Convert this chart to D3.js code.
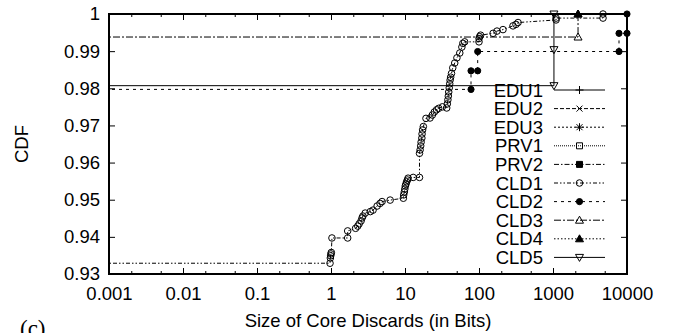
<!DOCTYPE html>
<html>
<head>
<meta charset="utf-8">
<script src="https://cdn.jsdelivr.net/npm/d3@7"></script>
<style>
  body { margin: 0; background: #fff; }
  text { font-family: "Liberation Sans", Arial, Helvetica, sans-serif; fill: #000; }
</style>
</head>
<body>
<div id="chart"></div>
<script>
// axis ticks
const xTicks = [0.001, 0.01, 0.1, 1, 10, 100, 1000, 10000];
const xTickLabels = ["0.001", "0.01", "0.1", "1", "10", "100", "1000", "10000"];
const xMinorTicks = [0.002, 0.005, 0.02, 0.05, 0.2, 0.5, 2, 5, 20, 50, 200, 500, 2000, 5000];
const yTicks = [0.93, 0.94, 0.95, 0.96, 0.97, 0.98, 0.99, 1];
const yTickLabels = ["0.93", "0.94", "0.95", "0.96", "0.97", "0.98", "0.99", "1"];

const seriesNames = ["EDU1", "EDU2", "EDU3", "PRV1", "PRV2", "CLD1", "CLD2", "CLD3", "CLD4", "CLD5"];

// [size in bits, CDF]; points left of 0.001 only carry the line in from the left edge
const edu1 = [[0.0001, 1], [20000, 1]];
const edu2 = [[0.0001, 1], [20000, 1]];
const edu3 = [[0.0001, 1], [20000, 1]];
const prv1 = [[0.0001, 1], [20000, 1]];
const prv2 = [[0.0001, 1], [20000, 1]];
const cld1 = [
  [0.0001, 0.9329],
  [0.97, 0.9329], [0.98, 0.9343], [0.99, 0.9349], [1.0, 0.9354], [1.01, 0.9358],
  [1.03, 0.9397], [1.68, 0.9397], [1.68, 0.9416],
  [2.15, 0.9423], [2.3, 0.9429], [2.4, 0.9435], [2.55, 0.9443], [2.63, 0.9451], [2.7, 0.9456], [2.9, 0.9464],
  [3.4, 0.9468], [3.7, 0.9472], [4.2, 0.9483], [4.6, 0.9490], [4.9, 0.9495], [6.3, 0.9499], [9.5, 0.9504],
  [9.6, 0.9513], [9.8, 0.9521], [9.95, 0.9529], [10.1, 0.9537], [10.3, 0.9542], [10.5, 0.9548], [10.8, 0.9553], [11.0, 0.9558],
  [12.9, 0.9560], [15.7, 0.9560],
  [15.7, 0.9625], [16.0, 0.9634], [16.3, 0.9645], [16.5, 0.9655], [16.9, 0.9666], [17.0, 0.9677], [17.3, 0.9688], [17.7, 0.9697],
  [19.2, 0.9719], [21.8, 0.9720], [23.4, 0.9728], [24.9, 0.9736], [26.7, 0.9742], [28.5, 0.9746], [32, 0.9750],
  [36.6, 0.9747], [37.3, 0.9758], [38.0, 0.9769], [38.5, 0.9779], [39.0, 0.9790], [39.6, 0.9801], [40.2, 0.9812],
  [40.7, 0.9822], [41.4, 0.9830], [42.5, 0.9840],
  [44.2, 0.9855], [47, 0.9868], [50.3, 0.9882], [55, 0.9895], [58.7, 0.9911], [60.5, 0.9921], [64, 0.9925],
  [100, 0.9925], [100, 0.9934], [102, 0.9939], [105, 0.9943],
  [155, 0.9948], [175, 0.9954], [211, 0.9958], [288, 0.9968], [316, 0.9972], [337, 0.9977],
  [1100, 0.9984], [1100, 0.9989], [4740, 0.9989], [4740, 1.0], [20000, 1.0]
];
const cld2 = [
  [0.0001, 0.9797], [78, 0.9797], [78, 0.9847], [96, 0.9847], [96, 0.9899],
  [7800, 0.9899], [7800, 0.9948], [10000, 0.9948], [10000, 1.0]
];
const cld3 = [[0.0001, 0.9938], [2180, 0.9938], [2180, 1.0]];
const cld4 = [[0.0001, 1.0], [2180, 1.0]];
const cld5 = [[0.0001, 0.9807], [1030, 0.9807], [1030, 0.9904], [1030, 1.0]];

const seriesData = [edu1, edu2, edu3, prv1, prv2, cld1, cld2, cld3, cld4, cld5];

// line / point style per series
const styles = {
  EDU1: { dash: null, mark: "plus" },
  EDU2: { dash: "4,2", mark: "cross" },
  EDU3: { dash: "2,2", mark: "star" },
  PRV1: { dash: "1,1", mark: "square" },
  PRV2: { dash: "5,2,1.5,2", mark: "squareFilled" },
  CLD1: { dash: "4,2,1.5,2,1.5,2", mark: "circle" },
  CLD2: { dash: "3,4", mark: "circleFilled" },
  CLD3: { dash: "7,2,2,2", mark: "triangle" },
  CLD4: { dash: "1.5,2", mark: "triangleFilled" },
  CLD5: { dash: null, mark: "triangleDown" }
};

let margin = { top: 14, right: 47, bottom: 59, left: 109 },
    width = 674 - margin.left - margin.right,
    height = 333 - margin.top - margin.bottom;

let x = d3.scaleLog().domain([0.001, 10000]).range([0, width]);
let y = d3.scaleLinear().domain([0.93, 1]).range([height, 0]);

let root = d3.select("#chart").append("svg")
    .attr("width", 674)
    .attr("height", 333);
let svg = root.append("g")
    .attr("transform", "translate(" + margin.left + "," + margin.top + ")");

svg.append("clipPath").attr("id", "plotclip")
    .append("rect").attr("width", width).attr("height", height);

function markPath(kind) {
    if (kind == "plus") return "M-4,0H4M0,-4V4";
    if (kind == "cross") return "M-3,-3L3,3M-3,3L3,-3";
    if (kind == "star") return "M-4,0H4M0,-4V4M-3,-3L3,3M-3,3L3,-3";
    if (kind.startsWith("square")) return "M-3,-3H3V3H-3Z";
    if (kind == "circle") return d3.symbol(d3.symbolCircle, 34)();
    if (kind == "circleFilled") return d3.symbol(d3.symbolCircle, 30)();
    if (kind == "triangleDown") return "M-4,-3L4,-3L0,4Z";
    return "M0,-4L4,3L-4,3Z";
}

function drawMark(g, kind, px, py) {
    g.append("path")
        .attr("d", markPath(kind))
        .attr("transform", "translate(" + px + "," + py + ")")
        .attr("fill", kind.endsWith("Filled") ? "#000" : "none")
        .attr("stroke", "#000")
        .attr("stroke-width", 1);
}

// minor x ticks (2 and 5 of every decade), bottom and top
svg.append("g")
    .attr("transform", "translate(0," + height + ")")
    .call(d3.axisBottom(x).tickValues(xMinorTicks).tickSizeInner(-3).tickSizeOuter(0).tickFormat(""))
    .call(g => g.select(".domain").remove());
svg.append("g")
    .call(d3.axisTop(x).tickValues(xMinorTicks).tickSizeInner(-3).tickSizeOuter(0).tickFormat(""))
    .call(g => g.select(".domain").remove());

// major ticks
svg.append("g")
    .attr("transform", "translate(0," + height + ")")
    .call(d3.axisBottom(x).tickValues(xTicks).tickSizeInner(-6).tickSizeOuter(0).tickPadding(13)
        .tickFormat((d, i) => xTickLabels[i]))
    .call(g => g.select(".domain").remove())
    .selectAll("text").style("font-size", "18.5px");
svg.append("g")
    .call(d3.axisTop(x).tickValues(xTicks).tickSizeInner(-6).tickSizeOuter(0).tickFormat(""))
    .call(g => g.select(".domain").remove());
svg.append("g")
    .call(d3.axisLeft(y).tickValues(yTicks).tickSizeInner(-6).tickSizeOuter(0).tickPadding(9)
        .tickFormat((d, i) => yTickLabels[i]))
    .call(g => g.select(".domain").remove())
    .selectAll("text").style("font-size", "18.5px");
svg.append("g")
    .attr("transform", "translate(" + width + ",0)")
    .call(d3.axisRight(y).tickValues(yTicks).tickSizeInner(-6).tickSizeOuter(0).tickFormat(""))
    .call(g => g.select(".domain").remove());

svg.selectAll(".tick line").attr("stroke", "#000");

// data lines
let line = d3.line()
    .x(function(d) { return x(d[0]); })
    .y(function(d) { return y(d[1]); });

let plot = svg.append("g");
seriesNames.forEach(function(name, i) {
    let st = styles[name];
    plot.append("path")
        .datum(seriesData[i])
        .attr("clip-path", "url(#plotclip)")
        .attr("d", line)
        .attr("fill", "none")
        .attr("stroke", "#000")
        .attr("stroke-width", 1)
        .attr("stroke-dasharray", st.dash);
});
seriesNames.forEach(function(name, i) {
    let st = styles[name];
    seriesData[i].forEach(function(d) {
        if (d[0] < 0.001 || d[0] > 10000) return;
        if (i < 5) return; // EDU/PRV sit on the top border, no points in range shown
        if (name == "CLD4" && d[0] < 1000) return;
        drawMark(plot, st.mark, x(d[0]), y(d[1]));
    });
});

// border
svg.append("rect")
    .attr("width", width)
    .attr("height", height)
    .attr("fill", "none")
    .attr("stroke", "#000")
    .attr("stroke-width", 2);

// legend
let legend = svg.append("g");
seriesNames.forEach(function(name, i) {
    let st = styles[name];
    let ly = 76 + i * 18.6;
    legend.append("text")
        .attr("x", 434)
        .attr("y", ly)
        .attr("dy", "0.36em")
        .style("text-anchor", "end")
        .style("font-size", "18.5px")
        .text(name);
    legend.append("line")
        .attr("x1", 445).attr("x2", 496)
        .attr("y1", ly).attr("y2", ly)
        .attr("stroke", "#000")
        .attr("stroke-width", 1)
        .attr("stroke-dasharray", st.dash);
    drawMark(legend, st.mark, 470.5, ly);
});

// axis titles
root.append("text")
    .attr("x", margin.left + width / 2)
    .attr("y", 327)
    .style("text-anchor", "middle")
    .style("font-size", "18.5px")
    .text("Size of Core Discards (in Bits)");

root.append("text")
    .attr("transform", "translate(28," + (margin.top + height / 2) + ") rotate(-90)")
    .style("text-anchor", "middle")
    .style("font-size", "18.5px")
    .text("CDF");

root.append("text")
    .attr("x", 20)
    .attr("y", 336)
    .style("font-family", "'Liberation Serif', 'Times New Roman', serif")
    .style("font-size", "23px")
    .text("(c)");
</script>
</body>
</html>
